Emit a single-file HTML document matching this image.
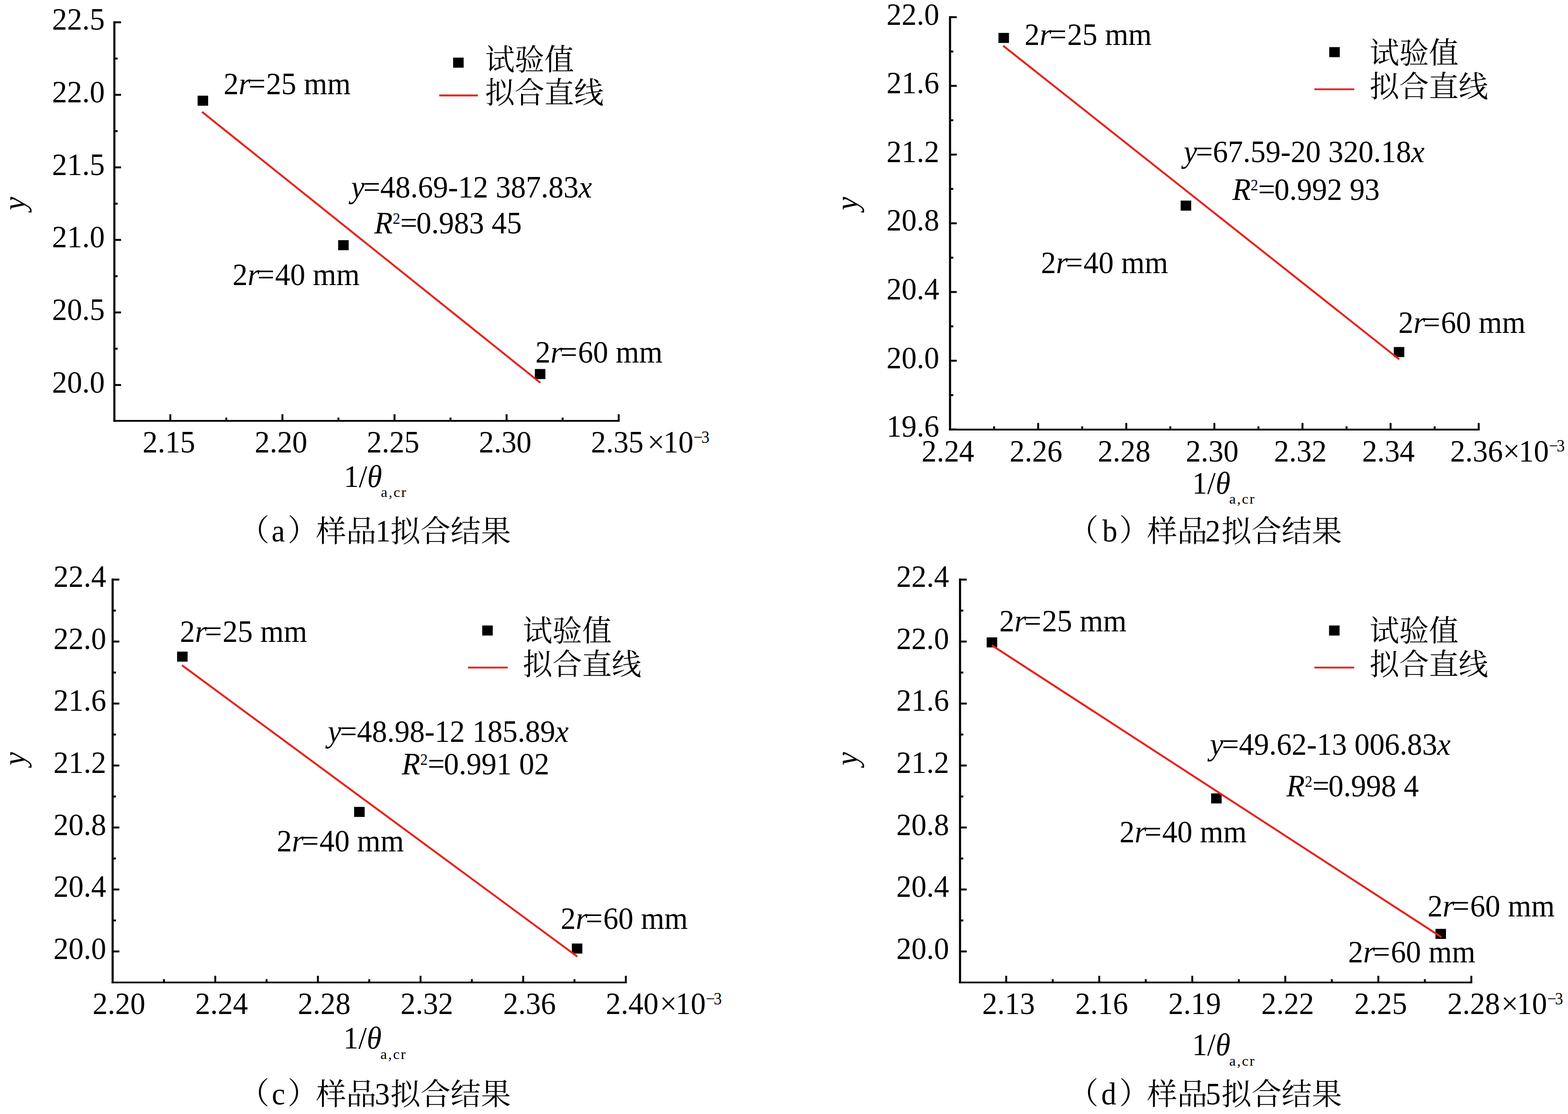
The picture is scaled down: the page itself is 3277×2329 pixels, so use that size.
<!DOCTYPE html>
<html><head><meta charset="utf-8"><title>fit</title>
<style>html,body{margin:0;padding:0;background:#fff;overflow:hidden}svg{display:block}
text{font-family:"Liberation Serif",serif;fill:#000;white-space:pre}
text.cjk{font-family:"Liberation Serif","Noto Serif CJK SC",serif}</style></head>
<body><svg width="3277" height="2329" viewBox="0 0 3277 2329">
<rect width="3277" height="2329" fill="#fff"/>
<g fill="#000">
<line x1="239.00" y1="44.40" x2="239.00" y2="881.70" stroke="#000" stroke-width="4.40" stroke-linecap="butt"/>
<line x1="236.80" y1="879.90" x2="1295.00" y2="879.90" stroke="#000" stroke-width="3.70" stroke-linecap="butt"/>
<line x1="239.00" y1="46.60" x2="253.00" y2="46.60" stroke="#000" stroke-width="4.00" stroke-linecap="butt"/>
<text transform="translate(219.00,62.20) scale(0.9470,1)" font-size="66.50" text-anchor="end" ><tspan >22.5</tspan></text>
<line x1="239.00" y1="198.26" x2="253.00" y2="198.26" stroke="#000" stroke-width="4.00" stroke-linecap="butt"/>
<text transform="translate(219.00,213.86) scale(0.9470,1)" font-size="66.50" text-anchor="end" ><tspan >22.0</tspan></text>
<line x1="239.00" y1="349.92" x2="253.00" y2="349.92" stroke="#000" stroke-width="4.00" stroke-linecap="butt"/>
<text transform="translate(219.00,365.52) scale(0.9470,1)" font-size="66.50" text-anchor="end" ><tspan >21.5</tspan></text>
<line x1="239.00" y1="501.58" x2="253.00" y2="501.58" stroke="#000" stroke-width="4.00" stroke-linecap="butt"/>
<text transform="translate(219.00,517.18) scale(0.9470,1)" font-size="66.50" text-anchor="end" ><tspan >21.0</tspan></text>
<line x1="239.00" y1="653.24" x2="253.00" y2="653.24" stroke="#000" stroke-width="4.00" stroke-linecap="butt"/>
<text transform="translate(219.00,668.84) scale(0.9470,1)" font-size="66.50" text-anchor="end" ><tspan >20.5</tspan></text>
<line x1="239.00" y1="804.90" x2="253.00" y2="804.90" stroke="#000" stroke-width="4.00" stroke-linecap="butt"/>
<text transform="translate(219.00,820.50) scale(0.9470,1)" font-size="66.50" text-anchor="end" ><tspan >20.0</tspan></text>
<line x1="239.00" y1="122.43" x2="245.80" y2="122.43" stroke="#000" stroke-width="4.00" stroke-linecap="butt"/>
<line x1="239.00" y1="274.09" x2="245.80" y2="274.09" stroke="#000" stroke-width="4.00" stroke-linecap="butt"/>
<line x1="239.00" y1="425.75" x2="245.80" y2="425.75" stroke="#000" stroke-width="4.00" stroke-linecap="butt"/>
<line x1="239.00" y1="577.41" x2="245.80" y2="577.41" stroke="#000" stroke-width="4.00" stroke-linecap="butt"/>
<line x1="239.00" y1="729.07" x2="245.80" y2="729.07" stroke="#000" stroke-width="4.00" stroke-linecap="butt"/>
<line x1="356.00" y1="879.50" x2="356.00" y2="866.00" stroke="#000" stroke-width="4.00" stroke-linecap="butt"/>
<text transform="translate(353.00,946.20) scale(0.9470,1)" font-size="66.50" text-anchor="middle" ><tspan >2.15</tspan></text>
<line x1="590.25" y1="879.50" x2="590.25" y2="866.00" stroke="#000" stroke-width="4.00" stroke-linecap="butt"/>
<text transform="translate(587.25,946.20) scale(0.9470,1)" font-size="66.50" text-anchor="middle" ><tspan >2.20</tspan></text>
<line x1="824.50" y1="879.50" x2="824.50" y2="866.00" stroke="#000" stroke-width="4.00" stroke-linecap="butt"/>
<text transform="translate(821.50,946.20) scale(0.9470,1)" font-size="66.50" text-anchor="middle" ><tspan >2.25</tspan></text>
<line x1="1058.75" y1="879.50" x2="1058.75" y2="866.00" stroke="#000" stroke-width="4.00" stroke-linecap="butt"/>
<text transform="translate(1055.75,946.20) scale(0.9470,1)" font-size="66.50" text-anchor="middle" ><tspan >2.30</tspan></text>
<line x1="1293.00" y1="879.50" x2="1293.00" y2="866.00" stroke="#000" stroke-width="4.00" stroke-linecap="butt"/>
<text transform="translate(1290.00,946.20) scale(0.9470,1)" font-size="66.50" text-anchor="middle" ><tspan >2.35</tspan></text>
<text transform="translate(1353.32,946.20) scale(0.9470,1)" font-size="66.50" text-anchor="start" ><tspan >×</tspan></text>
<text transform="translate(1386.27,946.20) scale(0.9470,1)" font-size="66.50" text-anchor="start" ><tspan >10</tspan></text>
<text transform="translate(1449.30,925.50) scale(0.9470,1)" font-size="35.91" text-anchor="start" ><tspan >−</tspan><tspan dx="-3">3</tspan></text>
<line x1="473.00" y1="879.50" x2="473.00" y2="873.00" stroke="#000" stroke-width="4.00" stroke-linecap="butt"/>
<line x1="707.25" y1="879.50" x2="707.25" y2="873.00" stroke="#000" stroke-width="4.00" stroke-linecap="butt"/>
<line x1="941.50" y1="879.50" x2="941.50" y2="873.00" stroke="#000" stroke-width="4.00" stroke-linecap="butt"/>
<line x1="1175.75" y1="879.50" x2="1175.75" y2="873.00" stroke="#000" stroke-width="4.00" stroke-linecap="butt"/>
<rect x="413.00" y="200.00" width="22.00" height="21.00" fill="#000"/>
<rect x="706.70" y="502.10" width="22.00" height="21.00" fill="#000"/>
<rect x="1117.80" y="771.50" width="22.00" height="21.00" fill="#000"/>
<line x1="422.30" y1="233.90" x2="1129.30" y2="800.30" stroke="#e8211c" stroke-width="4.00" stroke-linecap="butt"/>
<text transform="translate(467.20,196.70) scale(0.9470,1)" font-size="66.50" text-anchor="start" ><tspan >2</tspan><tspan font-style="italic" >r</tspan><tspan dx="-4">=</tspan><tspan dx="1.5">25 mm</tspan></text>
<text transform="translate(485.90,595.70) scale(0.9470,1)" font-size="66.50" text-anchor="start" ><tspan >2</tspan><tspan font-style="italic" >r</tspan><tspan dx="-4">=</tspan><tspan dx="1.5">40 mm</tspan></text>
<text transform="translate(1118.90,757.80) scale(0.9470,1)" font-size="66.50" text-anchor="start" ><tspan >2</tspan><tspan font-style="italic" >r</tspan><tspan dx="-4">=</tspan><tspan dx="1.5">60 mm</tspan></text>
<text transform="translate(734.10,413.00) scale(0.9470,1)" font-size="66.50" text-anchor="start" ><tspan font-style="italic" >y</tspan><tspan dx="-3">=</tspan><tspan >48.69-12 387.83</tspan><tspan font-style="italic" >x</tspan></text>
<text transform="translate(782.30,488.00) scale(0.9470,1)" font-size="66.50" text-anchor="start" ><tspan font-style="italic" >R</tspan><tspan font-size="33.2" dy="-20" dx="0">2</tspan><tspan dy="20" dx="0">=</tspan><tspan dx="-2">0.983 45</tspan></text>
<rect x="947.00" y="120.50" width="22.00" height="21.00" fill="#000"/>
<line x1="918.00" y1="199.50" x2="998.70" y2="199.50" stroke="#e8211c" stroke-width="3.80" stroke-linecap="butt"/>
<text class="cjk" x="1013.70" y="146.80" font-size="62" text-anchor="start">试验值</text>
<text class="cjk" x="1013.70" y="215.70" font-size="62" text-anchor="start">拟合直线</text>
<text transform="translate(52.00,425.50) rotate(-90) scale(0.9470,1)" font-size="66.50" font-style="italic" text-anchor="middle">y</text>
<text transform="translate(718.50,1017.50) scale(0.9470,1)" font-size="66.50" text-anchor="start" ><tspan >1/</tspan><tspan font-style="italic" >θ</tspan></text>
<text transform="translate(796.00,1039.10) scale(1.0600,1)" font-size="29.00" text-anchor="start" letter-spacing="2.4"><tspan >a,cr</tspan></text>
<text class="cjk" x="500.00" y="1130.00" font-size="63" text-anchor="start">（</text>
<text transform="translate(567.39,1132.30) scale(0.9470,1)" font-size="66.50" text-anchor="start" ><tspan >a</tspan></text>
<text class="cjk" x="601.00" y="1130.00" font-size="63" text-anchor="start">）</text>
<text class="cjk" x="660.46" y="1132.30" font-size="63" text-anchor="start">样品</text>
<text transform="translate(784.67,1132.30) scale(0.9470,1)" font-size="66.50" text-anchor="start" ><tspan >1</tspan></text>
<text class="cjk" x="815.70" y="1132.30" font-size="63" text-anchor="start">拟合结果</text>
<line x1="1985.50" y1="33.70" x2="1985.50" y2="900.00" stroke="#000" stroke-width="4.40" stroke-linecap="butt"/>
<line x1="1983.30" y1="898.20" x2="3092.40" y2="898.20" stroke="#000" stroke-width="3.70" stroke-linecap="butt"/>
<line x1="1985.50" y1="35.90" x2="1999.50" y2="35.90" stroke="#000" stroke-width="4.00" stroke-linecap="butt"/>
<text transform="translate(1963.00,51.50) scale(0.9470,1)" font-size="66.50" text-anchor="end" ><tspan >22.0</tspan></text>
<line x1="1985.50" y1="179.55" x2="1999.50" y2="179.55" stroke="#000" stroke-width="4.00" stroke-linecap="butt"/>
<text transform="translate(1963.00,195.15) scale(0.9470,1)" font-size="66.50" text-anchor="end" ><tspan >21.6</tspan></text>
<line x1="1985.50" y1="323.20" x2="1999.50" y2="323.20" stroke="#000" stroke-width="4.00" stroke-linecap="butt"/>
<text transform="translate(1963.00,338.80) scale(0.9470,1)" font-size="66.50" text-anchor="end" ><tspan >21.2</tspan></text>
<line x1="1985.50" y1="466.85" x2="1999.50" y2="466.85" stroke="#000" stroke-width="4.00" stroke-linecap="butt"/>
<text transform="translate(1963.00,482.45) scale(0.9470,1)" font-size="66.50" text-anchor="end" ><tspan >20.8</tspan></text>
<line x1="1985.50" y1="610.50" x2="1999.50" y2="610.50" stroke="#000" stroke-width="4.00" stroke-linecap="butt"/>
<text transform="translate(1963.00,626.10) scale(0.9470,1)" font-size="66.50" text-anchor="end" ><tspan >20.4</tspan></text>
<line x1="1985.50" y1="754.15" x2="1999.50" y2="754.15" stroke="#000" stroke-width="4.00" stroke-linecap="butt"/>
<text transform="translate(1963.00,769.75) scale(0.9470,1)" font-size="66.50" text-anchor="end" ><tspan >20.0</tspan></text>
<line x1="1985.50" y1="897.80" x2="1999.50" y2="897.80" stroke="#000" stroke-width="4.00" stroke-linecap="butt"/>
<text transform="translate(1963.00,913.40) scale(0.9470,1)" font-size="66.50" text-anchor="end" ><tspan >19.6</tspan></text>
<line x1="1985.50" y1="107.72" x2="1992.30" y2="107.72" stroke="#000" stroke-width="4.00" stroke-linecap="butt"/>
<line x1="1985.50" y1="251.38" x2="1992.30" y2="251.38" stroke="#000" stroke-width="4.00" stroke-linecap="butt"/>
<line x1="1985.50" y1="395.02" x2="1992.30" y2="395.02" stroke="#000" stroke-width="4.00" stroke-linecap="butt"/>
<line x1="1985.50" y1="538.68" x2="1992.30" y2="538.68" stroke="#000" stroke-width="4.00" stroke-linecap="butt"/>
<line x1="1985.50" y1="682.33" x2="1992.30" y2="682.33" stroke="#000" stroke-width="4.00" stroke-linecap="butt"/>
<line x1="1985.50" y1="825.98" x2="1992.30" y2="825.98" stroke="#000" stroke-width="4.00" stroke-linecap="butt"/>
<text transform="translate(1981.00,964.50) scale(0.9470,1)" font-size="66.50" text-anchor="middle" ><tspan >2.24</tspan></text>
<line x1="2169.65" y1="897.80" x2="2169.65" y2="884.30" stroke="#000" stroke-width="4.00" stroke-linecap="butt"/>
<text transform="translate(2165.15,964.50) scale(0.9470,1)" font-size="66.50" text-anchor="middle" ><tspan >2.26</tspan></text>
<line x1="2353.80" y1="897.80" x2="2353.80" y2="884.30" stroke="#000" stroke-width="4.00" stroke-linecap="butt"/>
<text transform="translate(2349.30,964.50) scale(0.9470,1)" font-size="66.50" text-anchor="middle" ><tspan >2.28</tspan></text>
<line x1="2537.95" y1="897.80" x2="2537.95" y2="884.30" stroke="#000" stroke-width="4.00" stroke-linecap="butt"/>
<text transform="translate(2533.45,964.50) scale(0.9470,1)" font-size="66.50" text-anchor="middle" ><tspan >2.30</tspan></text>
<line x1="2722.10" y1="897.80" x2="2722.10" y2="884.30" stroke="#000" stroke-width="4.00" stroke-linecap="butt"/>
<text transform="translate(2717.60,964.50) scale(0.9470,1)" font-size="66.50" text-anchor="middle" ><tspan >2.32</tspan></text>
<line x1="2906.25" y1="897.80" x2="2906.25" y2="884.30" stroke="#000" stroke-width="4.00" stroke-linecap="butt"/>
<text transform="translate(2901.75,964.50) scale(0.9470,1)" font-size="66.50" text-anchor="middle" ><tspan >2.34</tspan></text>
<line x1="3090.40" y1="897.80" x2="3090.40" y2="884.30" stroke="#000" stroke-width="4.00" stroke-linecap="butt"/>
<text transform="translate(3085.90,964.50) scale(0.9470,1)" font-size="66.50" text-anchor="middle" ><tspan >2.36</tspan></text>
<text transform="translate(3141.02,964.50) scale(0.9470,1)" font-size="66.50" text-anchor="start" ><tspan >×</tspan></text>
<text transform="translate(3173.97,964.50) scale(0.9470,1)" font-size="66.50" text-anchor="start" ><tspan >10</tspan></text>
<text transform="translate(3237.00,943.80) scale(0.9470,1)" font-size="35.91" text-anchor="start" ><tspan >−</tspan><tspan dx="-3">3</tspan></text>
<line x1="2077.57" y1="897.80" x2="2077.57" y2="891.30" stroke="#000" stroke-width="4.00" stroke-linecap="butt"/>
<line x1="2261.72" y1="897.80" x2="2261.72" y2="891.30" stroke="#000" stroke-width="4.00" stroke-linecap="butt"/>
<line x1="2445.88" y1="897.80" x2="2445.88" y2="891.30" stroke="#000" stroke-width="4.00" stroke-linecap="butt"/>
<line x1="2630.03" y1="897.80" x2="2630.03" y2="891.30" stroke="#000" stroke-width="4.00" stroke-linecap="butt"/>
<line x1="2814.18" y1="897.80" x2="2814.18" y2="891.30" stroke="#000" stroke-width="4.00" stroke-linecap="butt"/>
<line x1="2998.32" y1="897.80" x2="2998.32" y2="891.30" stroke="#000" stroke-width="4.00" stroke-linecap="butt"/>
<rect x="2086.70" y="68.80" width="22.00" height="21.00" fill="#000"/>
<rect x="2467.50" y="419.40" width="22.00" height="21.00" fill="#000"/>
<rect x="2912.90" y="725.50" width="22.00" height="21.00" fill="#000"/>
<line x1="2096.50" y1="95.60" x2="2924.20" y2="751.20" stroke="#e8211c" stroke-width="4.00" stroke-linecap="butt"/>
<text transform="translate(2141.30,94.00) scale(0.9470,1)" font-size="66.50" text-anchor="start" ><tspan >2</tspan><tspan font-style="italic" >r</tspan><tspan dx="-4">=</tspan><tspan dx="1.5">25 mm</tspan></text>
<text transform="translate(2175.40,570.60) scale(0.9470,1)" font-size="66.50" text-anchor="start" ><tspan >2</tspan><tspan font-style="italic" >r</tspan><tspan dx="-4">=</tspan><tspan dx="1.5">40 mm</tspan></text>
<text transform="translate(2922.40,696.10) scale(0.9470,1)" font-size="66.50" text-anchor="start" ><tspan >2</tspan><tspan font-style="italic" >r</tspan><tspan dx="-4">=</tspan><tspan dx="1.5">60 mm</tspan></text>
<text transform="translate(2474.10,339.10) scale(0.9470,1)" font-size="66.50" text-anchor="start" ><tspan font-style="italic" >y</tspan><tspan dx="-3">=</tspan><tspan >67.59-20 320.18</tspan><tspan font-style="italic" >x</tspan></text>
<text transform="translate(2575.40,418.10) scale(0.9470,1)" font-size="66.50" text-anchor="start" ><tspan font-style="italic" >R</tspan><tspan font-size="33.2" dy="-20" dx="0">2</tspan><tspan dy="20" dx="0">=</tspan><tspan dx="-2">0.992 93</tspan></text>
<rect x="2778.00" y="98.50" width="22.00" height="21.00" fill="#000"/>
<line x1="2747.00" y1="186.60" x2="2830.20" y2="186.60" stroke="#e8211c" stroke-width="3.80" stroke-linecap="butt"/>
<text class="cjk" x="2862.20" y="133.10" font-size="62" text-anchor="start">试验值</text>
<text class="cjk" x="2862.20" y="202.90" font-size="62" text-anchor="start">拟合直线</text>
<text transform="translate(1792.00,425.50) rotate(-90) scale(0.9470,1)" font-size="66.50" font-style="italic" text-anchor="middle">y</text>
<text transform="translate(2491.50,1031.50) scale(0.9470,1)" font-size="66.50" text-anchor="start" ><tspan >1/</tspan><tspan font-style="italic" >θ</tspan></text>
<text transform="translate(2569.00,1053.10) scale(1.0600,1)" font-size="29.00" text-anchor="start" letter-spacing="2.4"><tspan >a,cr</tspan></text>
<text class="cjk" x="2232.80" y="1130.00" font-size="63" text-anchor="start">（</text>
<text transform="translate(2303.70,1132.30) scale(0.9470,1)" font-size="66.50" text-anchor="start" ><tspan >b</tspan></text>
<text class="cjk" x="2339.10" y="1130.00" font-size="63" text-anchor="start">）</text>
<text class="cjk" x="2397.26" y="1132.30" font-size="63" text-anchor="start">样品</text>
<text transform="translate(2518.93,1132.30) scale(0.9470,1)" font-size="66.50" text-anchor="start" ><tspan >2</tspan></text>
<text class="cjk" x="2552.50" y="1132.30" font-size="63" text-anchor="start">拟合结果</text>
<line x1="235.40" y1="1209.50" x2="235.40" y2="2055.80" stroke="#000" stroke-width="4.40" stroke-linecap="butt"/>
<line x1="233.20" y1="2054.00" x2="1310.00" y2="2054.00" stroke="#000" stroke-width="3.70" stroke-linecap="butt"/>
<line x1="235.40" y1="1211.70" x2="249.40" y2="1211.70" stroke="#000" stroke-width="4.00" stroke-linecap="butt"/>
<text transform="translate(221.90,1227.30) scale(0.9470,1)" font-size="66.50" text-anchor="end" ><tspan >22.4</tspan></text>
<line x1="235.40" y1="1341.28" x2="249.40" y2="1341.28" stroke="#000" stroke-width="4.00" stroke-linecap="butt"/>
<text transform="translate(221.90,1356.88) scale(0.9470,1)" font-size="66.50" text-anchor="end" ><tspan >22.0</tspan></text>
<line x1="235.40" y1="1470.86" x2="249.40" y2="1470.86" stroke="#000" stroke-width="4.00" stroke-linecap="butt"/>
<text transform="translate(221.90,1486.46) scale(0.9470,1)" font-size="66.50" text-anchor="end" ><tspan >21.6</tspan></text>
<line x1="235.40" y1="1600.44" x2="249.40" y2="1600.44" stroke="#000" stroke-width="4.00" stroke-linecap="butt"/>
<text transform="translate(221.90,1616.04) scale(0.9470,1)" font-size="66.50" text-anchor="end" ><tspan >21.2</tspan></text>
<line x1="235.40" y1="1730.02" x2="249.40" y2="1730.02" stroke="#000" stroke-width="4.00" stroke-linecap="butt"/>
<text transform="translate(221.90,1745.62) scale(0.9470,1)" font-size="66.50" text-anchor="end" ><tspan >20.8</tspan></text>
<line x1="235.40" y1="1859.60" x2="249.40" y2="1859.60" stroke="#000" stroke-width="4.00" stroke-linecap="butt"/>
<text transform="translate(221.90,1875.20) scale(0.9470,1)" font-size="66.50" text-anchor="end" ><tspan >20.4</tspan></text>
<line x1="235.40" y1="1989.18" x2="249.40" y2="1989.18" stroke="#000" stroke-width="4.00" stroke-linecap="butt"/>
<text transform="translate(221.90,2004.78) scale(0.9470,1)" font-size="66.50" text-anchor="end" ><tspan >20.0</tspan></text>
<line x1="235.40" y1="1276.49" x2="242.20" y2="1276.49" stroke="#000" stroke-width="4.00" stroke-linecap="butt"/>
<line x1="235.40" y1="1406.07" x2="242.20" y2="1406.07" stroke="#000" stroke-width="4.00" stroke-linecap="butt"/>
<line x1="235.40" y1="1535.65" x2="242.20" y2="1535.65" stroke="#000" stroke-width="4.00" stroke-linecap="butt"/>
<line x1="235.40" y1="1665.23" x2="242.20" y2="1665.23" stroke="#000" stroke-width="4.00" stroke-linecap="butt"/>
<line x1="235.40" y1="1794.81" x2="242.20" y2="1794.81" stroke="#000" stroke-width="4.00" stroke-linecap="butt"/>
<line x1="235.40" y1="1924.39" x2="242.20" y2="1924.39" stroke="#000" stroke-width="4.00" stroke-linecap="butt"/>
<text transform="translate(248.70,2120.30) scale(0.9470,1)" font-size="66.50" text-anchor="middle" ><tspan >2.20</tspan></text>
<line x1="449.90" y1="2053.60" x2="449.90" y2="2040.10" stroke="#000" stroke-width="4.00" stroke-linecap="butt"/>
<text transform="translate(463.20,2120.30) scale(0.9470,1)" font-size="66.50" text-anchor="middle" ><tspan >2.24</tspan></text>
<line x1="664.40" y1="2053.60" x2="664.40" y2="2040.10" stroke="#000" stroke-width="4.00" stroke-linecap="butt"/>
<text transform="translate(677.70,2120.30) scale(0.9470,1)" font-size="66.50" text-anchor="middle" ><tspan >2.28</tspan></text>
<line x1="878.90" y1="2053.60" x2="878.90" y2="2040.10" stroke="#000" stroke-width="4.00" stroke-linecap="butt"/>
<text transform="translate(892.20,2120.30) scale(0.9470,1)" font-size="66.50" text-anchor="middle" ><tspan >2.32</tspan></text>
<line x1="1093.40" y1="2053.60" x2="1093.40" y2="2040.10" stroke="#000" stroke-width="4.00" stroke-linecap="butt"/>
<text transform="translate(1106.70,2120.30) scale(0.9470,1)" font-size="66.50" text-anchor="middle" ><tspan >2.36</tspan></text>
<line x1="1307.90" y1="2053.60" x2="1307.90" y2="2040.10" stroke="#000" stroke-width="4.00" stroke-linecap="butt"/>
<text transform="translate(1321.20,2120.30) scale(0.9470,1)" font-size="66.50" text-anchor="middle" ><tspan >2.40</tspan></text>
<text transform="translate(1379.12,2120.30) scale(0.9470,1)" font-size="66.50" text-anchor="start" ><tspan >×</tspan></text>
<text transform="translate(1412.07,2120.30) scale(0.9470,1)" font-size="66.50" text-anchor="start" ><tspan >10</tspan></text>
<text transform="translate(1475.10,2099.60) scale(0.9470,1)" font-size="35.91" text-anchor="start" ><tspan >−</tspan><tspan dx="-3">3</tspan></text>
<line x1="342.65" y1="2053.60" x2="342.65" y2="2047.10" stroke="#000" stroke-width="4.00" stroke-linecap="butt"/>
<line x1="557.15" y1="2053.60" x2="557.15" y2="2047.10" stroke="#000" stroke-width="4.00" stroke-linecap="butt"/>
<line x1="771.65" y1="2053.60" x2="771.65" y2="2047.10" stroke="#000" stroke-width="4.00" stroke-linecap="butt"/>
<line x1="986.15" y1="2053.60" x2="986.15" y2="2047.10" stroke="#000" stroke-width="4.00" stroke-linecap="butt"/>
<line x1="1200.65" y1="2053.60" x2="1200.65" y2="2047.10" stroke="#000" stroke-width="4.00" stroke-linecap="butt"/>
<rect x="370.10" y="1362.30" width="22.00" height="21.00" fill="#000"/>
<rect x="740.10" y="1686.90" width="22.00" height="21.00" fill="#000"/>
<rect x="1195.10" y="1972.60" width="22.00" height="21.00" fill="#000"/>
<line x1="380.40" y1="1390.90" x2="1206.50" y2="1999.80" stroke="#e8211c" stroke-width="4.00" stroke-linecap="butt"/>
<text transform="translate(376.10,1341.90) scale(0.9470,1)" font-size="66.50" text-anchor="start" ><tspan >2</tspan><tspan font-style="italic" >r</tspan><tspan dx="-4">=</tspan><tspan dx="1.5">25 mm</tspan></text>
<text transform="translate(578.50,1780.00) scale(0.9470,1)" font-size="66.50" text-anchor="start" ><tspan >2</tspan><tspan font-style="italic" >r</tspan><tspan dx="-4">=</tspan><tspan dx="1.5">40 mm</tspan></text>
<text transform="translate(1171.70,1941.90) scale(0.9470,1)" font-size="66.50" text-anchor="start" ><tspan >2</tspan><tspan font-style="italic" >r</tspan><tspan dx="-4">=</tspan><tspan dx="1.5">60 mm</tspan></text>
<text transform="translate(685.30,1550.80) scale(0.9470,1)" font-size="66.50" text-anchor="start" ><tspan font-style="italic" >y</tspan><tspan dx="-3">=</tspan><tspan >48.98-12 185.89</tspan><tspan font-style="italic" >x</tspan></text>
<text transform="translate(839.70,1619.00) scale(0.9470,1)" font-size="66.50" text-anchor="start" ><tspan font-style="italic" >R</tspan><tspan font-size="33.2" dy="-20" dx="0">2</tspan><tspan dy="20" dx="0">=</tspan><tspan dx="-2">0.991 02</tspan></text>
<rect x="1007.80" y="1307.70" width="22.00" height="21.00" fill="#000"/>
<line x1="977.90" y1="1395.70" x2="1061.20" y2="1395.70" stroke="#e8211c" stroke-width="3.80" stroke-linecap="butt"/>
<text class="cjk" x="1092.40" y="1341.10" font-size="62" text-anchor="start">试验值</text>
<text class="cjk" x="1092.40" y="1411.10" font-size="62" text-anchor="start">拟合直线</text>
<text transform="translate(52.00,1586.20) rotate(-90) scale(0.9470,1)" font-size="66.50" font-style="italic" text-anchor="middle">y</text>
<text transform="translate(717.50,2192.00) scale(0.9470,1)" font-size="66.50" text-anchor="start" ><tspan >1/</tspan><tspan font-style="italic" >θ</tspan></text>
<text transform="translate(795.00,2213.60) scale(1.0600,1)" font-size="29.00" text-anchor="start" letter-spacing="2.4"><tspan >a,cr</tspan></text>
<text class="cjk" x="500.00" y="2306.70" font-size="63" text-anchor="start">（</text>
<text transform="translate(568.00,2309.00) scale(0.9470,1)" font-size="66.50" text-anchor="start" ><tspan >c</tspan></text>
<text class="cjk" x="601.00" y="2306.70" font-size="63" text-anchor="start">）</text>
<text class="cjk" x="660.46" y="2309.00" font-size="63" text-anchor="start">样品</text>
<text transform="translate(783.19,2309.00) scale(0.9470,1)" font-size="66.50" text-anchor="start" ><tspan >3</tspan></text>
<text class="cjk" x="815.70" y="2309.00" font-size="63" text-anchor="start">拟合结果</text>
<line x1="2006.40" y1="1209.50" x2="2006.40" y2="2055.80" stroke="#000" stroke-width="4.40" stroke-linecap="butt"/>
<line x1="2004.20" y1="2054.00" x2="3077.00" y2="2054.00" stroke="#000" stroke-width="3.70" stroke-linecap="butt"/>
<line x1="2006.40" y1="1211.70" x2="2020.40" y2="1211.70" stroke="#000" stroke-width="4.00" stroke-linecap="butt"/>
<text transform="translate(1983.40,1227.30) scale(0.9470,1)" font-size="66.50" text-anchor="end" ><tspan >22.4</tspan></text>
<line x1="2006.40" y1="1341.28" x2="2020.40" y2="1341.28" stroke="#000" stroke-width="4.00" stroke-linecap="butt"/>
<text transform="translate(1983.40,1356.88) scale(0.9470,1)" font-size="66.50" text-anchor="end" ><tspan >22.0</tspan></text>
<line x1="2006.40" y1="1470.86" x2="2020.40" y2="1470.86" stroke="#000" stroke-width="4.00" stroke-linecap="butt"/>
<text transform="translate(1983.40,1486.46) scale(0.9470,1)" font-size="66.50" text-anchor="end" ><tspan >21.6</tspan></text>
<line x1="2006.40" y1="1600.44" x2="2020.40" y2="1600.44" stroke="#000" stroke-width="4.00" stroke-linecap="butt"/>
<text transform="translate(1983.40,1616.04) scale(0.9470,1)" font-size="66.50" text-anchor="end" ><tspan >21.2</tspan></text>
<line x1="2006.40" y1="1730.02" x2="2020.40" y2="1730.02" stroke="#000" stroke-width="4.00" stroke-linecap="butt"/>
<text transform="translate(1983.40,1745.62) scale(0.9470,1)" font-size="66.50" text-anchor="end" ><tspan >20.8</tspan></text>
<line x1="2006.40" y1="1859.60" x2="2020.40" y2="1859.60" stroke="#000" stroke-width="4.00" stroke-linecap="butt"/>
<text transform="translate(1983.40,1875.20) scale(0.9470,1)" font-size="66.50" text-anchor="end" ><tspan >20.4</tspan></text>
<line x1="2006.40" y1="1989.18" x2="2020.40" y2="1989.18" stroke="#000" stroke-width="4.00" stroke-linecap="butt"/>
<text transform="translate(1983.40,2004.78) scale(0.9470,1)" font-size="66.50" text-anchor="end" ><tspan >20.0</tspan></text>
<line x1="2006.40" y1="1276.49" x2="2013.20" y2="1276.49" stroke="#000" stroke-width="4.00" stroke-linecap="butt"/>
<line x1="2006.40" y1="1406.07" x2="2013.20" y2="1406.07" stroke="#000" stroke-width="4.00" stroke-linecap="butt"/>
<line x1="2006.40" y1="1535.65" x2="2013.20" y2="1535.65" stroke="#000" stroke-width="4.00" stroke-linecap="butt"/>
<line x1="2006.40" y1="1665.23" x2="2013.20" y2="1665.23" stroke="#000" stroke-width="4.00" stroke-linecap="butt"/>
<line x1="2006.40" y1="1794.81" x2="2013.20" y2="1794.81" stroke="#000" stroke-width="4.00" stroke-linecap="butt"/>
<line x1="2006.40" y1="1924.39" x2="2013.20" y2="1924.39" stroke="#000" stroke-width="4.00" stroke-linecap="butt"/>
<line x1="2102.90" y1="2053.60" x2="2102.90" y2="2040.10" stroke="#000" stroke-width="4.00" stroke-linecap="butt"/>
<text transform="translate(2107.90,2120.30) scale(0.9470,1)" font-size="66.50" text-anchor="middle" ><tspan >2.13</tspan></text>
<line x1="2297.32" y1="2053.60" x2="2297.32" y2="2040.10" stroke="#000" stroke-width="4.00" stroke-linecap="butt"/>
<text transform="translate(2302.32,2120.30) scale(0.9470,1)" font-size="66.50" text-anchor="middle" ><tspan >2.16</tspan></text>
<line x1="2491.74" y1="2053.60" x2="2491.74" y2="2040.10" stroke="#000" stroke-width="4.00" stroke-linecap="butt"/>
<text transform="translate(2496.74,2120.30) scale(0.9470,1)" font-size="66.50" text-anchor="middle" ><tspan >2.19</tspan></text>
<line x1="2686.16" y1="2053.60" x2="2686.16" y2="2040.10" stroke="#000" stroke-width="4.00" stroke-linecap="butt"/>
<text transform="translate(2691.16,2120.30) scale(0.9470,1)" font-size="66.50" text-anchor="middle" ><tspan >2.22</tspan></text>
<line x1="2880.58" y1="2053.60" x2="2880.58" y2="2040.10" stroke="#000" stroke-width="4.00" stroke-linecap="butt"/>
<text transform="translate(2885.58,2120.30) scale(0.9470,1)" font-size="66.50" text-anchor="middle" ><tspan >2.25</tspan></text>
<line x1="3075.00" y1="2053.60" x2="3075.00" y2="2040.10" stroke="#000" stroke-width="4.00" stroke-linecap="butt"/>
<text transform="translate(3080.00,2120.30) scale(0.9470,1)" font-size="66.50" text-anchor="middle" ><tspan >2.28</tspan></text>
<text transform="translate(3137.42,2120.30) scale(0.9470,1)" font-size="66.50" text-anchor="start" ><tspan >×</tspan></text>
<text transform="translate(3170.37,2120.30) scale(0.9470,1)" font-size="66.50" text-anchor="start" ><tspan >10</tspan></text>
<text transform="translate(3233.40,2099.60) scale(0.9470,1)" font-size="35.91" text-anchor="start" ><tspan >−</tspan><tspan dx="-3">3</tspan></text>
<line x1="2200.11" y1="2053.60" x2="2200.11" y2="2047.10" stroke="#000" stroke-width="4.00" stroke-linecap="butt"/>
<line x1="2394.53" y1="2053.60" x2="2394.53" y2="2047.10" stroke="#000" stroke-width="4.00" stroke-linecap="butt"/>
<line x1="2588.95" y1="2053.60" x2="2588.95" y2="2047.10" stroke="#000" stroke-width="4.00" stroke-linecap="butt"/>
<line x1="2783.37" y1="2053.60" x2="2783.37" y2="2047.10" stroke="#000" stroke-width="4.00" stroke-linecap="butt"/>
<line x1="2977.79" y1="2053.60" x2="2977.79" y2="2047.10" stroke="#000" stroke-width="4.00" stroke-linecap="butt"/>
<rect x="2062.10" y="1332.50" width="22.00" height="21.00" fill="#000"/>
<rect x="2531.20" y="1658.70" width="22.00" height="21.00" fill="#000"/>
<rect x="3000.00" y="1941.90" width="22.00" height="21.00" fill="#000"/>
<line x1="2073.10" y1="1349.20" x2="3012.50" y2="1959.20" stroke="#e8211c" stroke-width="4.00" stroke-linecap="butt"/>
<text transform="translate(2088.60,1320.40) scale(0.9470,1)" font-size="66.50" text-anchor="start" ><tspan >2</tspan><tspan font-style="italic" >r</tspan><tspan dx="-4">=</tspan><tspan dx="1.5">25 mm</tspan></text>
<text transform="translate(2339.80,1760.70) scale(0.9470,1)" font-size="66.50" text-anchor="start" ><tspan >2</tspan><tspan font-style="italic" >r</tspan><tspan dx="-4">=</tspan><tspan dx="1.5">40 mm</tspan></text>
<text transform="translate(2983.40,1915.70) scale(0.9470,1)" font-size="66.50" text-anchor="start" ><tspan >2</tspan><tspan font-style="italic" >r</tspan><tspan dx="-4">=</tspan><tspan dx="1.5">60 mm</tspan></text>
<text transform="translate(2817.60,2011.80) scale(0.9470,1)" font-size="66.50" text-anchor="start" ><tspan >2</tspan><tspan font-style="italic" >r</tspan><tspan dx="-4">=</tspan><tspan dx="1.5">60 mm</tspan></text>
<text transform="translate(2528.70,1578.40) scale(0.9470,1)" font-size="66.50" text-anchor="start" ><tspan font-style="italic" >y</tspan><tspan dx="-3">=</tspan><tspan >49.62-13 006.83</tspan><tspan font-style="italic" >x</tspan></text>
<text transform="translate(2688.50,1664.50) scale(0.9470,1)" font-size="66.50" text-anchor="start" ><tspan font-style="italic" >R</tspan><tspan font-size="33.2" dy="-20" dx="0">2</tspan><tspan dy="20" dx="0">=</tspan><tspan dx="-2">0.998 4</tspan></text>
<rect x="2777.60" y="1307.70" width="22.00" height="21.00" fill="#000"/>
<line x1="2747.00" y1="1395.70" x2="2830.20" y2="1395.70" stroke="#e8211c" stroke-width="3.80" stroke-linecap="butt"/>
<text class="cjk" x="2862.20" y="1341.10" font-size="62" text-anchor="start">试验值</text>
<text class="cjk" x="2862.20" y="1411.10" font-size="62" text-anchor="start">拟合直线</text>
<text transform="translate(1792.00,1586.20) rotate(-90) scale(0.9470,1)" font-size="66.50" font-style="italic" text-anchor="middle">y</text>
<text transform="translate(2491.50,2206.00) scale(0.9470,1)" font-size="66.50" text-anchor="start" ><tspan >1/</tspan><tspan font-style="italic" >θ</tspan></text>
<text transform="translate(2569.00,2227.60) scale(1.0600,1)" font-size="29.00" text-anchor="start" letter-spacing="2.4"><tspan >a,cr</tspan></text>
<text class="cjk" x="2232.80" y="2306.70" font-size="63" text-anchor="start">（</text>
<text transform="translate(2301.42,2309.00) scale(0.9470,1)" font-size="66.50" text-anchor="start" ><tspan >d</tspan></text>
<text class="cjk" x="2339.10" y="2306.70" font-size="63" text-anchor="start">）</text>
<text class="cjk" x="2397.26" y="2309.00" font-size="63" text-anchor="start">样品</text>
<text transform="translate(2519.84,2309.00) scale(0.9470,1)" font-size="66.50" text-anchor="start" ><tspan >5</tspan></text>
<text class="cjk" x="2552.50" y="2309.00" font-size="63" text-anchor="start">拟合结果</text>
</g></svg></body></html>
